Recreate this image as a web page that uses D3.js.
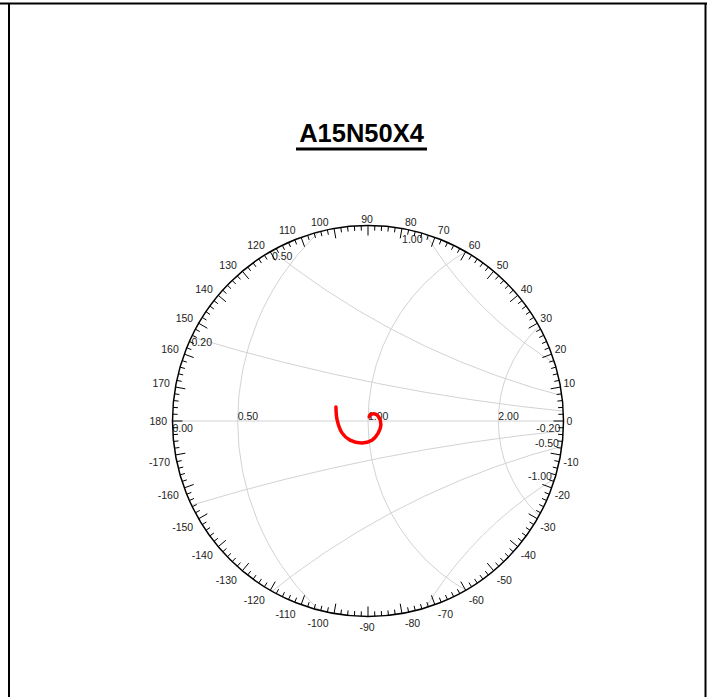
<!DOCTYPE html>
<head>
  <meta charset="UTF-8">
  <title>A15N50X4</title>
  <style>
  body, html{
    padding: 0;
    margin: 0;
    background: #fff;
  }
  svg{
    display: block;
  }
  text{
    font-family: "Liberation Sans", Arial, Helvetica, sans-serif;
  }
  </style>
</head>
<body>
  <script src="https://cdn.jsdelivr.net/npm/d3@7/dist/d3.min.js"></script>
  <script type="text/javascript">
  // data
  var title = 'A15N50X4';
  var resistances = [0, 0.5, 1, 2];
  var reactances = [0.2, 0.5, 1, -0.2, -0.5, -1];
  var angleLabels = d3.range(-170, 181, 10);
  var minorAngles = d3.range(0, 360, 2);
  // reflection coefficient of the trace
  var gammaRe = [-0.082, -0.079, -0.066, -0.046, -0.015, 0.010, 0.026, 0.033, 0.028, 0.018, 0.005, 0.003];
  var gammaIm = [0.036, 0.003, -0.031, -0.049, -0.056, -0.049, -0.031, -0.010, 0.010, 0.018, 0.015, 0.010];

  var width = 707, height = 697;
  var cx = 368, cy = 421, R = 195.5;
  var K = 2 * R; // grid scale

  var svg = d3.select('body')
    .append('svg')
    .attr('width', width)
    .attr('height', height);

  // frame
  var frame = svg.append('g').attr('stroke', '#000').attr('stroke-width', 2);
  frame.append('line').attr('x1', 0).attr('x2', width).attr('y1', 3.5).attr('y2', 3.5);
  frame.append('line').attr('x1', 9).attr('x2', 9).attr('y1', 3).attr('y2', height);
  frame.append('line').attr('x1', 705.5).attr('x2', 705.5).attr('y1', 3).attr('y2', height);

  // title
  svg.append('text')
    .attr('x', 361.5)
    .attr('y', 142)
    .attr('text-anchor', 'middle')
    .attr('font-size', 25.5)
    .attr('font-weight', 'bold')
    .attr('fill', '#000')
    .text(title);
  svg.append('line')
    .attr('x1', 296).attr('x2', 427)
    .attr('y1', 149).attr('y2', 149)
    .attr('stroke', '#000').attr('stroke-width', 3);

  var gx = d3.scaleLinear().domain([-1, 1]).range([cx - K, cx + K]);
  var gy = d3.scaleLinear().domain([-1, 1]).range([cy + K, cy - K]);
  var gr = function(v){ return v * K; };
  var ang = d3.scaleLinear().domain([0, 360]).range([0, 2 * Math.PI]);
  var fmt = function(v){ return v.toFixed(2); };

  svg.append('clipPath').attr('id', 'chartClip')
    .append('circle').attr('cx', cx).attr('cy', cy).attr('r', R);

  var grid = svg.append('g')
    .attr('clip-path', 'url(#chartClip)')
    .attr('fill', 'none')
    .attr('stroke', '#d2d2d2')
    .attr('stroke-width', 1);

  grid.append('line')
    .attr('x1', cx - R).attr('x2', cx + R)
    .attr('y1', cy).attr('y2', cy);

  grid.selectAll('circle.res')
    .data(resistances)
    .enter()
    .append('circle')
    .attr('class', 'res')
    .attr('cx', function(d){ return gx(d / (1 + d)); })
    .attr('cy', gy(0))
    .attr('r', function(d){ return gr(1 / (1 + d)); });

  grid.selectAll('circle.rea')
    .data(reactances)
    .enter()
    .append('circle')
    .attr('class', 'rea')
    .attr('cx', gx(1))
    .attr('cy', function(d){ return gy(1 / d); })
    .attr('r', function(d){ return gr(1 / Math.abs(d)); });

  // where a grid circle meets the outer circle
  function meetOuter(px, py, pr){
    var dx = px - cx, dy = py - cy, d = Math.hypot(dx, dy);
    var a = (R * R - pr * pr + d * d) / (2 * d);
    var h = Math.sqrt(Math.max(0, R * R - a * a));
    var mx = cx + a * dx / d, my = cy + a * dy / d;
    return [[mx + h * dy / d, my - h * dx / d], [mx - h * dy / d, my + h * dx / d]];
  }

  var labels = svg.append('g')
    .attr('font-size', 10.5)
    .attr('fill', '#222');

  labels.selectAll('text.res')
    .data(resistances)
    .enter()
    .append('text')
    .attr('class', 'res')
    .attr('x', function(d){ return Math.max(gx((d - 1) / (d + 1)), cx - R); })
    .attr('y', function(d){ return gx((d - 1) / (d + 1)) < cx - R ? cy + 11 : cy - 1; })
    .text(function(d){ return fmt(d); });

  labels.selectAll('text.rea')
    .data(reactances)
    .enter()
    .append('text')
    .attr('class', 'rea')
    .each(function(d){
      var pts = meetOuter(gx(1), gy(1 / d), gr(1 / Math.abs(d)));
      pts.sort(function(a, b){ return a[0] - b[0]; });
      var p = d > 0 ? pts[0] : pts[1];
      d3.select(this)
        .attr('x', p[0] < cx ? p[0] : p[0] - 3)
        .attr('y', d > 0 ? p[1] + 9 : p[1] + 1)
        .attr('text-anchor', p[0] < cx ? 'start' : 'end');
    })
    .text(function(d){ return fmt(d); });

  // outer circle and ticks
  svg.append('circle')
    .attr('cx', cx).attr('cy', cy).attr('r', R)
    .attr('fill', 'none')
    .attr('stroke', '#000')
    .attr('stroke-width', 1.5);

  svg.append('g')
    .attr('stroke', '#000')
    .attr('stroke-width', 1)
    .selectAll('line')
    .data(minorAngles)
    .enter()
    .append('line')
    .each(function(d){
      var t = ang(d), len = d % 10 === 0 ? 10 : 5;
      d3.select(this)
        .attr('x1', cx + R * Math.cos(t)).attr('y1', cy - R * Math.sin(t))
        .attr('x2', cx + (R - len) * Math.cos(t)).attr('y2', cy - (R - len) * Math.sin(t));
    });

  svg.append('g')
    .attr('font-size', 10.5)
    .attr('fill', '#222')
    .selectAll('text')
    .data(angleLabels)
    .enter()
    .append('text')
    .each(function(d){
      var t = ang(d), c = Math.cos(t), s = Math.sin(t);
      var x = cx + R * c, y = cy - R * s;
      var anchor = Math.abs(c) < 0.05 ? 'middle' : (c > 0 ? 'start' : 'end');
      var dx = Math.abs(c) < 0.05 ? -1 : (c > 0 ? 3 : -5.5);
      var dy;
      if(Math.abs(s) < 0.05) dy = 4;
      else if(s > 0) dy = -3 * s;
      else dy = 10 + 4 * Math.abs(s);
      d3.select(this)
        .attr('x', x + dx)
        .attr('y', y + dy)
        .attr('text-anchor', anchor);
    })
    .text(function(d){ return d; });

  // trace
  var trace = d3.line()
    .x(function(d, i){ return gx(gammaRe[i]); })
    .y(function(d, i){ return gy(gammaIm[i]); })
    .curve(d3.curveCatmullRom);

  svg.append('path')
    .attr('d', trace(gammaRe))
    .attr('fill', 'none')
    .attr('stroke', '#ff0000')
    .attr('stroke-width', 3.5)
    .attr('stroke-linecap', 'round');
  </script>
</body>
</html>
